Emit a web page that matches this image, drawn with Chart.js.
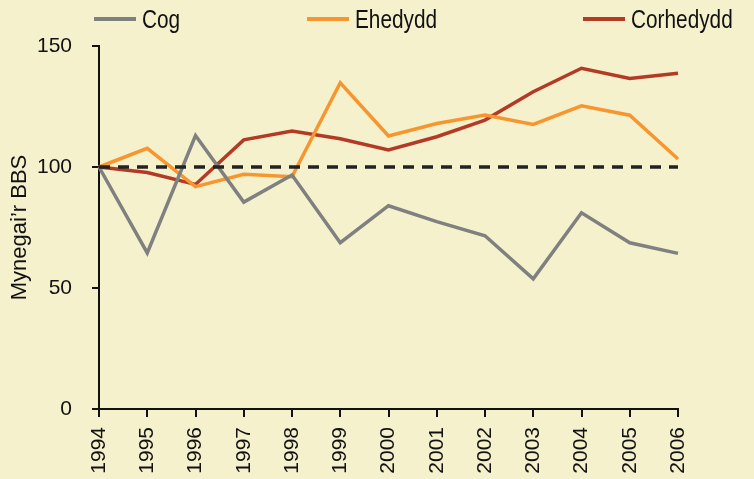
<!DOCTYPE html>
<html>
<head>
<meta charset="utf-8">
<script src="https://cdn.jsdelivr.net/npm/chart.js@4"></script>
<style>
    html, body { margin: 0; padding: 0; background: #f6f1cd; }
    #wrap { position: relative; width: 754px; height: 479px; overflow: hidden; }
    #chart { position: absolute; left: 0; top: 0; }
    .legend-item { position: absolute; top: 3px; height: 32px; display: flex; align-items: center;
        font-family: 'Liberation Sans', Arial, sans-serif; font-size: 26px; color: #111; white-space: nowrap; }
    .legend-item .swatch { display: inline-block; width: 42px; height: 4px; margin-right: 6px; }
    .legend-item .txt { display: inline-block; transform: scaleX(0.8); transform-origin: left center; }
</style>
</head>
<body>
<div id="wrap">
    <canvas id="chart" width="754" height="479"></canvas>
    <div class="legend-item" style="left:94px"><span class="swatch" style="background:#808080"></span><span class="txt">Cog</span></div>
    <div class="legend-item" style="left:307px"><span class="swatch" style="background:#f7962f"></span><span class="txt">Ehedydd</span></div>
    <div class="legend-item" style="left:583px"><span class="swatch" style="background:#b33a24"></span><span class="txt">Corhedydd</span></div>
</div>
<script>
(function () {
    'use strict';

    var years = ['1994', '1995', '1996', '1997', '1998', '1999', '2000', '2001', '2002', '2003', '2004', '2005', '2006'];
    var cog = [100, 64.5, 113, 85.5, 96.7, 68.7, 84, 77.4, 71.6, 53.8, 81.1, 68.7, 64.3];
    var ehedydd = [100, 107.7, 91.9, 97, 96, 134.8, 112.8, 118, 121.5, 117.6, 125.3, 121.4, 103.3];
    var corhedydd = [100, 97.7, 92.8, 111.2, 114.9, 111.7, 107, 112.5, 119.4, 131.1, 140.8, 136.6, 138.7];
    var baseline = years.map(function () { return 100; });
    var yTicks = [0, 50, 100, 150];

    function series(label, data, color, dash) {
        return {
            label: label,
            data: data,
            borderColor: color,
            backgroundColor: color,
            borderWidth: 3.5,
            borderDash: dash || [],
            pointRadius: 0,
            tension: 0,
            fill: false
        };
    }

    new Chart(document.getElementById('chart').getContext('2d'), {
        type: 'line',
        data: {
            labels: years,
            datasets: [
                series('Baseline', baseline, '#222222', [11, 8]),
                series('Cog', cog, '#808080'),
                series('Ehedydd', ehedydd, '#f7962f'),
                series('Corhedydd', corhedydd, '#b33a24')
            ]
        },
        options: {
            responsive: false,
            animation: false,
            layout: { padding: { top: 46, right: 76, left: 0, bottom: 0 } },
            plugins: {
                legend: { display: false },
                tooltip: { enabled: false }
            },
            scales: {
                x: {
                    offset: false,
                    grid: { drawOnChartArea: false, drawTicks: true, tickLength: 8, color: '#111', lineWidth: 2 },
                    border: { color: '#111', width: 2 },
                    ticks: {
                        color: '#111', minRotation: 90, maxRotation: 90, padding: 10,
                        font: { family: 'Liberation Sans, Arial, sans-serif', size: 21 }
                    },
                    afterFit: function (scale) { scale.height = 70; }
                },
                y: {
                    min: 0,
                    max: 150,
                    afterBuildTicks: function (scale) {
                        scale.ticks = yTicks.map(function (v) { return { value: v }; });
                    },
                    grid: { drawOnChartArea: false, drawTicks: true, tickLength: 7, color: '#111', lineWidth: 2 },
                    border: { color: '#111', width: 2 },
                    ticks: {
                        color: '#111', padding: 20,
                        font: { family: 'Liberation Sans, Arial, sans-serif', size: 21 }
                    },
                    title: {
                        display: true,
                        text: 'Mynegai’r BBS',
                        color: '#111',
                        padding: { top: 7, bottom: 0 },
                        font: { family: 'Liberation Sans, Arial, sans-serif', size: 22 }
                    },
                    afterFit: function (scale) { scale.width = 99; }
                }
            }
        }
    });
})();
</script>
</body>
</html>
